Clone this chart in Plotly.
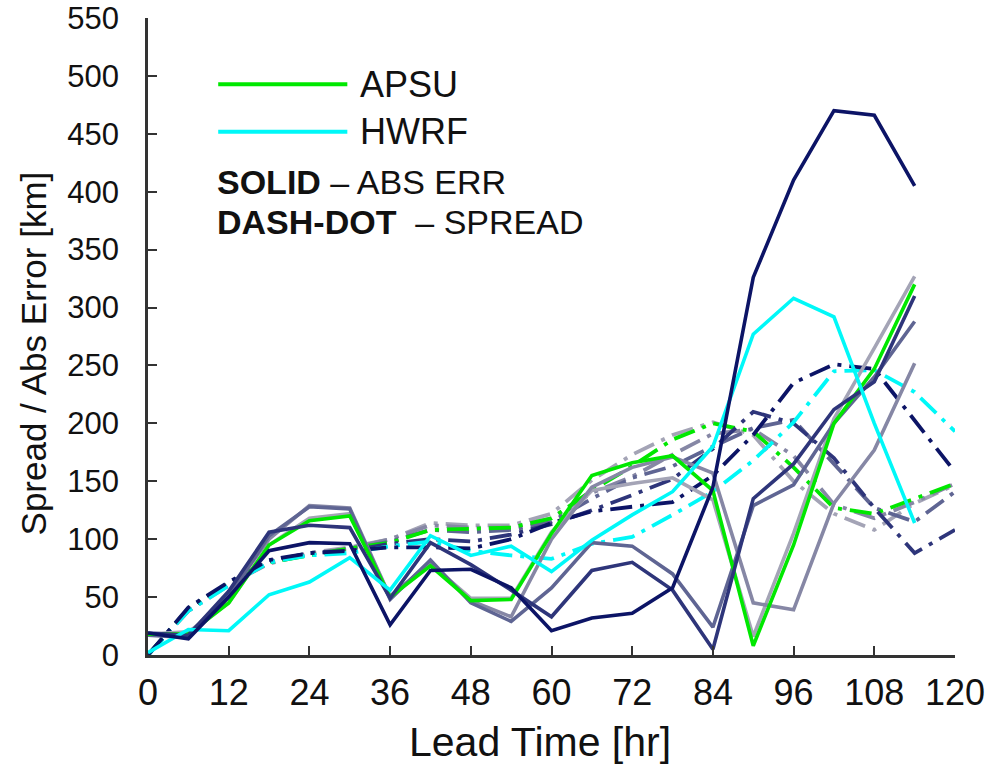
import plotly.graph_objects as go

# Lead times (hours)
hours_err = list(range(0, 115, 6))      # 0..114
hours_spread = list(range(0, 121, 6))   # 0..120

# Absolute track error [km] per model
err_apsu = [18, 18, 45, 95, 116, 120, 50, 77, 47, 48, 105, 155, 166, 172, 142, 8, 95, 200, 247, 320]
err_hwrf = [2, 22, 21, 52, 63, 84, 56, 103, 86, 94, 72, 99, 121, 141, 180, 277, 308, 292, 200, 114]
err_m1 = [18, 20, 45, 95, 118, 122, 51, 79, 49, 49, 106, 142, 148, 153, 134, 16, 105, 204, 265, 327]
err_m2 = [18, 18, 52, 100, 129, 127, 50, 80, 47, 33, 100, 145, 162, 171, 157, 45, 39, 131, 177, 252]
err_m3 = [17, 15, 50, 103, 128, 126, 48, 82, 45, 29, 58, 97, 94, 70, 24, 129, 147, 200, 240, 288]
err_m4 = [19, 17, 55, 106, 112, 110, 49, 97, 78, 56, 33, 73, 80, 56, 5, 135, 165, 212, 236, 310]
err_m5 = [19, 14, 50, 90, 97, 96, 26, 73, 74, 58, 21, 32, 36, 58, 145, 326, 410, 470, 466, 405]

# Ensemble spread [km] per model
spr_apsu = [0, 40, 62, 80, 86, 92, 97, 108, 109, 110, 118, 142, 163, 186, 200, 193, 162, 127, 122, 135, 148]
spr_hwrf = [0, 38, 60, 80, 86, 88, 94, 98, 90, 86, 83, 96, 102, 121, 141, 168, 201, 245, 246, 227, 193]
spr_m1 = [0, 38, 60, 80, 88, 93, 100, 114, 112, 112, 122, 151, 173, 190, 201, 190, 150, 122, 108, 131, 147]
spr_m2 = [0, 38, 61, 79, 87, 92, 100, 112, 110, 110, 118, 140, 154, 173, 191, 195, 172, 130, 118, 132, 148]
spr_m3 = [0, 39, 62, 80, 88, 91, 98, 108, 106, 108, 115, 135, 153, 163, 180, 196, 203, 165, 127, 115, 141]
spr_m4 = [0, 40, 62, 81, 88, 90, 96, 100, 98, 104, 113, 125, 138, 152, 178, 210, 200, 170, 127, 88, 108]
spr_m5 = [0, 41, 63, 82, 88, 90, 93, 93, 92, 100, 114, 124, 128, 132, 155, 190, 235, 251, 247, 203, 158]

x_ticks = list(range(0, 121, 12))
y_ticks = list(range(0, 551, 50))

GREEN = "#00e800"
CYAN = "#00f8f8"
shades = ["#a4a4b6", "#8687a5", "#5f6593", "#2e357a", "#0c1466"]

DASHDOT = "22px,8px,4px,8px"
FONT = "Liberation Sans, Arial, Helvetica, sans-serif"

fig = go.Figure()

spreads = [(spr_m1, shades[0]), (spr_m2, shades[1]), (spr_m3, shades[2]),
           (spr_apsu, GREEN), (spr_m4, shades[3]), (spr_hwrf, CYAN), (spr_m5, shades[4])]
for vals, col in spreads:
    fig.add_trace(go.Scatter(x=hours_spread, y=vals, mode="lines",
                             line=dict(color=col, width=3.8, dash=DASHDOT),
                             showlegend=False, hoverinfo="skip"))

errors = [(err_m1, shades[0]), (err_m2, shades[1]), (err_m3, shades[2]),
          (err_apsu, GREEN), (err_m4, shades[3]), (err_hwrf, CYAN), (err_m5, shades[4])]
for vals, col in errors:
    fig.add_trace(go.Scatter(x=hours_err, y=vals, mode="lines",
                             line=dict(color=col, width=3.6),
                             showlegend=False, hoverinfo="skip"))

axis_common = dict(showline=True, linecolor="#333333", linewidth=2.5,
                   ticks="inside", ticklen=9, tickwidth=2, tickcolor="#333333",
                   showgrid=False, zeroline=False, automargin=False,
                   ticklabeloverflow="allow")

fig.update_xaxes(range=[0, 120], tickvals=x_ticks, ticklabelstandoff=4,
                 tickfont=dict(family=FONT, size=36, color="#111111"), **axis_common)
fig.update_yaxes(range=[0, 550], tickvals=y_ticks, ticklabelstandoff=20,
                 tickfont=dict(family=FONT, size=31, color="#111111"), **axis_common)

# Legend drawn as short line samples with labels
legend_items = [("APSU", GREEN, 0.896), ("HWRF", CYAN, 0.8215)]
for label, col, yy in legend_items:
    fig.add_shape(type="line", xref="paper", yref="paper",
                  x0=0.087, x1=0.247, y0=yy, y1=yy,
                  line=dict(color=col, width=4))
    fig.add_annotation(xref="paper", yref="paper", x=0.260, y=yy,
                       text=label, showarrow=False, xanchor="left", yanchor="middle",
                       font=dict(family=FONT, size=36, color="#111111"))

fig.add_annotation(xref="paper", yref="paper", x=0.083, y=0.742,
                   text="<b>SOLID</b> – ABS ERR", showarrow=False,
                   xanchor="left", yanchor="middle",
                   font=dict(family=FONT, size=34, color="#111111"))
fig.add_annotation(xref="paper", yref="paper", x=0.083, y=0.679,
                   text="<b>DASH-DOT</b>  – SPREAD", showarrow=False,
                   xanchor="left", yanchor="middle",
                   font=dict(family=FONT, size=34, color="#111111"))

# Axis titles
fig.add_annotation(xref="paper", yref="paper", x=0.486, y=-0.137,
                   text="Lead Time [hr]", showarrow=False,
                   xanchor="center", yanchor="middle",
                   font=dict(family=FONT, size=41, color="#111111"))
fig.add_annotation(xref="paper", yref="paper", x=-0.142, y=0.474,
                   text="Spread / Abs Error [km]", showarrow=False, textangle=-90,
                   xanchor="center", yanchor="middle",
                   font=dict(family=FONT, size=35, color="#111111"))

fig.update_layout(width=988, height=766,
                  margin=dict(l=148, r=33, t=18, b=111, autoexpand=False),
                  plot_bgcolor="white", paper_bgcolor="white",
                  showlegend=False)

fig.write_html("out.html")
